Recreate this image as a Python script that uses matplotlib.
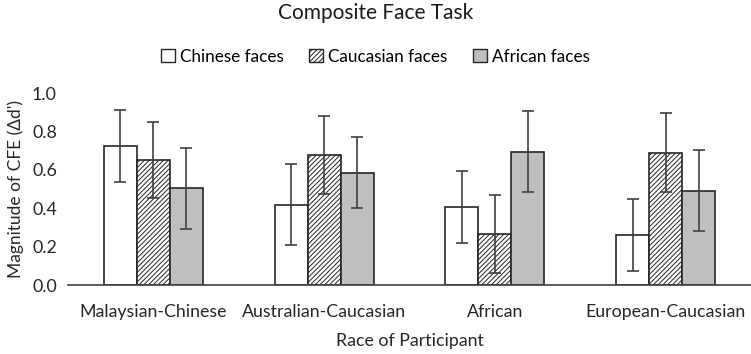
import numpy as np
import matplotlib.pyplot as plt

plt.rcParams['font.family'] = ['Lato', 'DejaVu Sans']
plt.rcParams['hatch.linewidth'] = 0.7

groups = ['Malaysian-Chinese', 'Australian-Caucasian', 'African', 'European-Caucasian']
series = ['Chinese faces', 'Caucasian faces', 'African faces']
chinese = [0.724, 0.418, 0.406, 0.259]
caucasian = [0.651, 0.677, 0.267, 0.688]
african = [0.503, 0.585, 0.694, 0.491]
chinese_err = [0.185, 0.21, 0.188, 0.187]
caucasian_err = [0.2, 0.205, 0.204, 0.206]
african_err = [0.21, 0.186, 0.211, 0.21]

fig = plt.figure(figsize=(7.51, 3.54), dpi=100)
ax = fig.add_axes([68 / 751, 69 / 354, 683 / 751, 192 / 354])

x = np.arange(len(groups))
w = 0.193
styles = [dict(color='white', hatch=None),
          dict(color='white', hatch='///////'),
          dict(color='#bfbfbf', hatch=None)]
vals = [chinese, caucasian, african]
errs = [chinese_err, caucasian_err, african_err]
for i, (v, e, st) in enumerate(zip(vals, errs, styles)):
    ax.bar(x + (i - 1) * w, v, w, color=st['color'], hatch=st['hatch'],
           edgecolor='#262626', linewidth=1.2, label=series[i],
           yerr=e, capsize=4, error_kw=dict(ecolor='#404040', elinewidth=1.2, capthick=1.2))

ax.set_xlim(-0.5, 3.5)
ax.set_ylim(0, 1.0)
ax.set_yticks(np.arange(0, 1.01, 0.2))
ax.set_yticklabels([f'{t:.1f}' for t in np.arange(0, 1.01, 0.2)])
ax.set_xticks(x)
ax.set_xticklabels(groups)
ax.tick_params(length=0, labelsize=12.8, colors='#262626')
ax.tick_params(axis='x', pad=14)
ax.tick_params(axis='y', pad=8)
for s in ['left', 'right', 'top']:
    ax.spines[s].set_visible(False)
ax.spines['bottom'].set_color('#404040')
ax.spines['bottom'].set_linewidth(1.2)
ax.set_ylabel("Magnitude of CFE (\u0394d')", fontsize=12.5, color='#262626', labelpad=6)
ax.set_xlabel('Race of Participant', fontsize=12.8, color='#262626', labelpad=9)

fig.text(0.5, 0.962, 'Composite Face Task', ha='center', va='center', fontsize=15, color='#1a1a1a')
leg = fig.legend(loc='center', bbox_to_anchor=(0.5, 0.84), ncol=3, frameon=False,
                 fontsize=12.3, handlelength=0.8, handleheight=0.8, handletextpad=0.3,
                 columnspacing=1.5)
for h in leg.legend_handles:
    h.set_linewidth(1.0)

fig.savefig('out.png', dpi=100)
